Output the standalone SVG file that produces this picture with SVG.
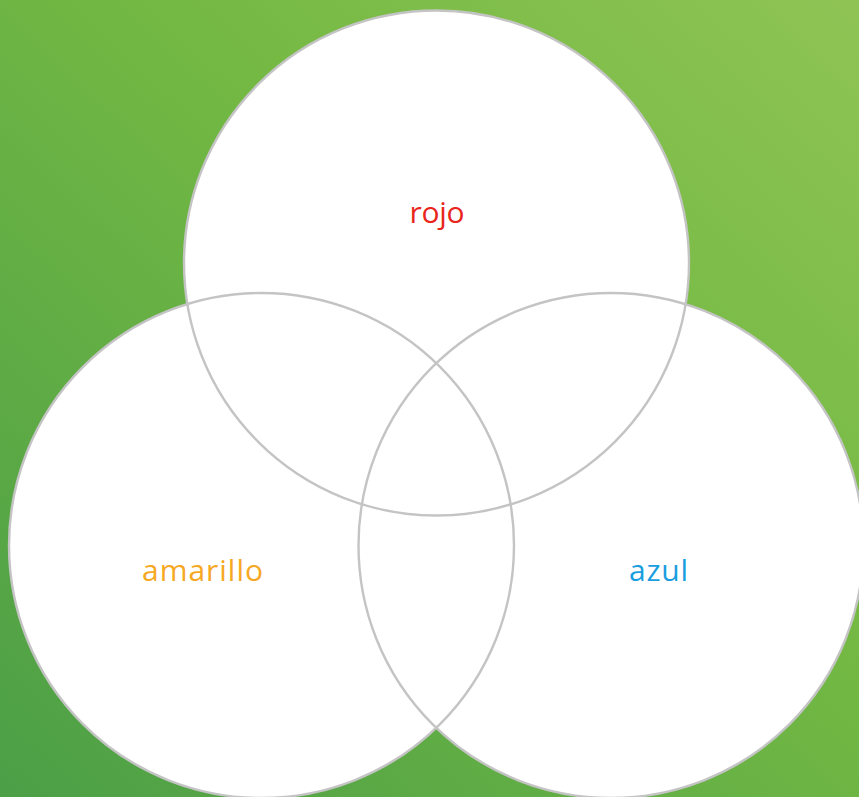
<svg xmlns="http://www.w3.org/2000/svg" width="859" height="797" viewBox="0 0 859 797">
  <style>
    .fill { fill: #ffffff; stroke: none; }
    .ring { fill: none; stroke: #c4c4c4; stroke-width: 2.4; }
    .lbl { font-family: "Open Sans", "Liberation Sans", sans-serif; font-size: 30px; text-anchor: middle; }
  </style>
  <defs>
    <linearGradient id="bg" x1="1" y1="0" x2="0" y2="1">
      <stop offset="0" stop-color="#8fc455"/>
      <stop offset="0.4" stop-color="#74b943"/>
      <stop offset="1" stop-color="#4c9f47"/>
    </linearGradient>
  </defs>
  <rect x="0" y="0" width="859" height="797" fill="url(#bg)"/>
  <g id="fills">
    <circle class="fill" cx="436.5" cy="263" r="252.5"/>
    <circle class="fill" cx="261.5" cy="545.5" r="252.5"/>
    <circle class="fill" cx="611" cy="545.5" r="252.5"/>
  </g>
  <g id="rojo">
    <circle class="ring" cx="436.5" cy="263" r="252.5"/>
    <text class="lbl" x="437" y="223" fill="#e8261c" textLength="55" lengthAdjust="spacing">rojo</text>
  </g>
  <g id="amarillo">
    <circle class="ring" cx="261.5" cy="545.5" r="252.5"/>
    <text class="lbl" x="202.5" y="581" fill="#f7a823" textLength="121" lengthAdjust="spacing">amarillo</text>
  </g>
  <g id="azul">
    <circle class="ring" cx="611" cy="545.5" r="252.5"/>
    <text class="lbl" x="658.5" y="581" fill="#1a9ee0" textLength="59" lengthAdjust="spacing">azul</text>
  </g>
  <g id="connectors"></g>
</svg>
